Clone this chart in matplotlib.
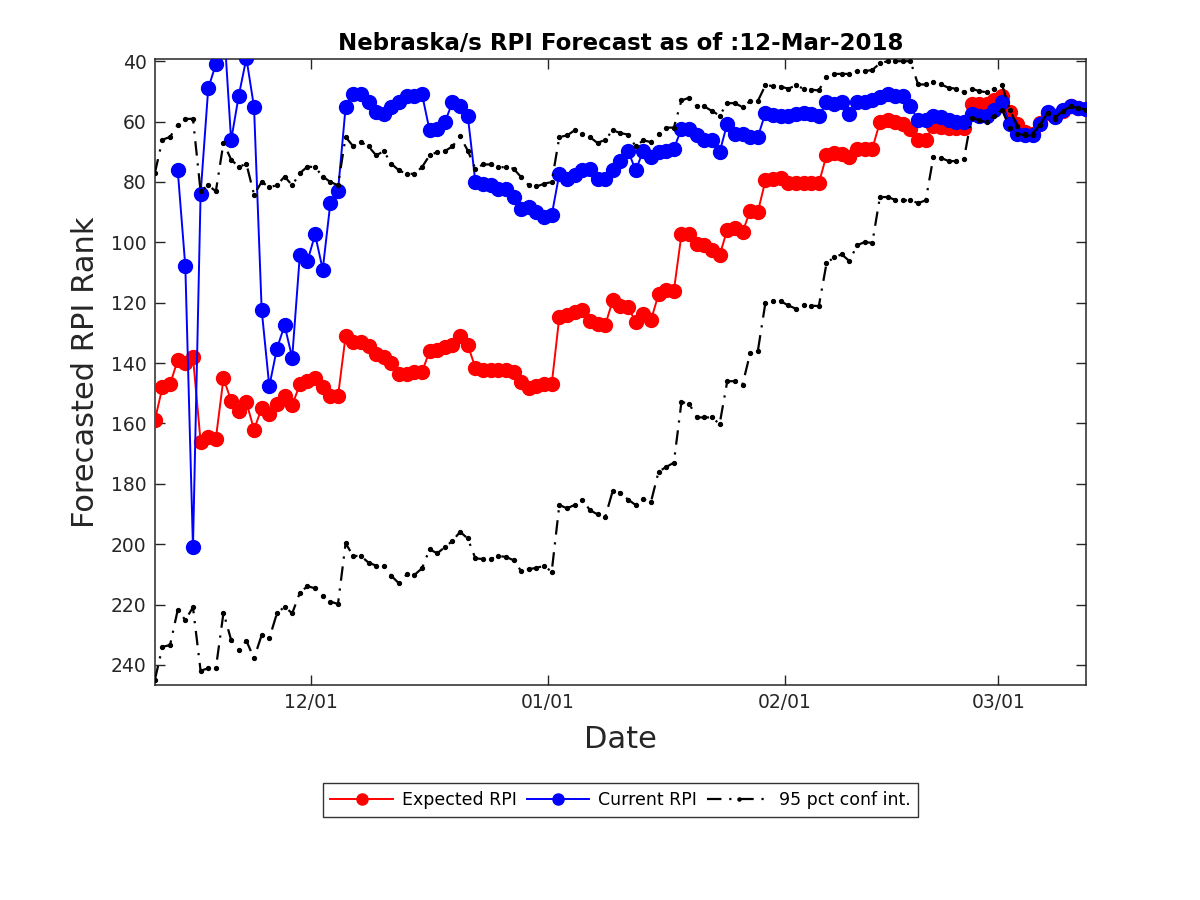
import numpy as np
import pandas as pd
import matplotlib
matplotlib.use("Agg")
import matplotlib.pyplot as plt

# ---------------- data ----------------
dates = pd.date_range("2017-11-10 12:00", "2018-03-12 12:00", freq="D")

expected_rpi = [
    159, 148, 147, 139, 140, 138, 166, 164.5, 165, 145,
    152.5, 156, 153, 162, 155, 157, 153.5, 151, 154, 147,
    146, 145, 148, 151, 151, 131, 133, 133, 134.5, 137,
    138, 140, 143.5, 143.5, 143, 143, 136, 135.5, 134.7, 134,
    131, 134, 141.5, 142.4, 142.4, 142.4, 142.4, 143, 146.3, 148.4,
    147.5, 147, 147, 124.7, 124.1, 123, 122.5, 126, 126.9, 127.5,
    119.2, 121.2, 121.4, 126.4, 123.8, 125.8, 117.2, 115.9, 116.1, 97.4,
    97.4, 100.7, 101, 102.7, 104.3, 95.8, 95.1, 96.6, 89.6, 90,
    79.5, 79, 78.6, 80.4, 80.4, 80.4, 80.4, 80.4, 71.2, 70.4,
    70.6, 71.8, 69, 69, 69, 60.2, 59.6, 60.2, 60.7, 62.4,
    66.2, 66, 61.3, 61.8, 62, 62, 62, 54.1, 54.1, 54.1,
    53, 51.4, 56.9, 60.7, 63.5, 64, 60.5, 57, 58, 56.5,
    55, 55.5, 55.8,
]

current_rpi = [
    np.nan, np.nan, np.nan, 76, 108, 201, 84, 49, 41, 26,
    66.2, 51.4, 39, 55.2, 122.3, 147.7, 135.2, 127.5, 138.2, 104.3,
    106.2, 97.4, 109, 87, 83, 55.2, 50.8, 50.8, 53.6, 56.9,
    57.4, 55.2, 53.6, 51.4, 51.4, 50.8, 62.9, 62.4, 60.2, 53.6,
    54.7, 58, 80, 80.6, 81.1, 82.2, 82.2, 85, 88.8, 88.3,
    90, 91.6, 91, 77.3, 78.9, 77.8, 76.2, 75.6, 78.9, 78.9,
    76.2, 72.9, 69.6, 76.2, 69.6, 71.8, 70.1, 69.6, 69, 62.4,
    62.4, 64.6, 66.2, 66.2, 70.1, 60.7, 64, 64, 65.1, 65.1,
    57.2, 57.8, 58.3, 58.3, 57.6, 57.2, 57.6, 58.3, 53.6, 54.1,
    53.6, 57.4, 53.6, 53.6, 53, 51.9, 50.8, 51.4, 51.4, 55,
    59.6, 59.6, 58, 58.5, 59.6, 60.2, 60.2, 57.4, 58.3, 58.3,
    56.3, 53.6, 60.7, 64, 64.6, 64.6, 60.7, 56.9, 58.5, 56.3,
    54.7, 55.5, 55.8,
]

ci_upper = [
    77.1, 66, 65.1, 61, 59.1, 59.1, 83.1, 81.1, 83.1, 67,
    72.6, 75, 74, 84.2, 80, 81.7, 81.1, 78.2, 81.1, 77.1,
    74.9, 75.1, 78.2, 80, 81.1, 65.1, 68.2, 66.8, 68.2, 71.2,
    69.8, 74, 76.2, 77.3, 77.3, 75.1, 71.2, 70.1, 69.8, 68.2,
    64.9, 69.6, 75.6, 74.2, 74.2, 75.1, 75.1, 75.6, 78.4, 81.1,
    81.5, 80.6, 80, 65.1, 64.6, 62.9, 64.2, 65.1, 67.1, 66,
    62.9, 63.8, 64.3, 68.2, 66.2, 66.8, 64, 62, 62, 53,
    52.1, 55, 55, 56.5, 58, 53.9, 53.9, 55.2, 53.2, 53.2,
    48, 48.2, 48.4, 49.1, 48, 49.1, 49.4, 49.7, 45.1, 44.2,
    44.2, 44.2, 43.3, 43.3, 42.9, 40.7, 40, 40, 40, 40,
    47.7, 47.7, 46.9, 47.7, 48.8, 49.1, 50.3, 49.1, 49.9, 50.3,
    49.1, 47.8, 56, 61.5, 64, 64, 61, 57, 58.5, 56.5,
    55, 55.5, 56,
]

ci_lower = [
    245, 234, 233.4, 221.8, 225.1, 220.9, 241.9, 241.1, 241.1, 222.7,
    231.7, 235, 232, 237.8, 230.1, 231.2, 222.9, 220.7, 222.9, 216.1,
    213.9, 214.6, 217.2, 219, 219.8, 199.7, 203.9, 203.9, 206.1, 207.1,
    207.1, 210.5, 213, 210, 210.2, 208, 201.7, 203, 201, 198.9,
    195.9, 198.1, 204.7, 204.9, 204.9, 203.9, 204.2, 205.3, 208.9, 208.3,
    207.8, 207.2, 209.1, 187, 188.1, 187, 185.2, 188.7, 190.1, 191.1,
    182.3, 183, 185.2, 187, 185.1, 186, 176, 174.4, 173, 152.9,
    153.4, 158, 158, 158, 160.2, 146, 146, 147.1, 136.8, 136.1,
    120, 119.5, 119.5, 120.9, 122, 120.9, 121, 121.1, 107, 104.9,
    104, 106.2, 101, 99.9, 100.2, 85, 85, 85.9, 86.1, 86.1,
    87, 86.1, 71.8, 72, 73.1, 73.1, 72.5, 58.7, 59.6, 60.2,
    58, 56.1, 62, 64, 64.6, 64.6, 61, 57, 59, 56.5,
    55, 55.5, 56,
]

y_ticks = [40, 60, 80, 100, 120, 140, 160, 180, 200, 220, 240]
x_tick_dates = ["2017-12-01", "2018-01-01", "2018-02-01", "2018-03-01"]
x_tick_labels = ["12/01", "01/01", "02/01", "03/01"]

title = "Nebraska/s RPI Forecast as of :12-Mar-2018"

# ---------------- plot ----------------
plt.rcParams["font.family"] = ["DejaVu Sans"]
fig = plt.figure(figsize=(12, 9), dpi=100)
ax = fig.add_axes([0.129, 0.239, 0.776, 0.695])

axis_col = "#262626"
ci_style = (0, (6.5, 3.5, 1, 3.5))

l1, = ax.plot(dates, expected_rpi, color="red", lw=1.4, marker="o", ms=10,
              markeredgecolor="red", label="Expected RPI", zorder=3)
l2, = ax.plot(dates, current_rpi, color="blue", lw=1.4, marker="o", ms=10,
              markeredgecolor="blue", label="Current RPI", zorder=4)
l3, = ax.plot(dates, ci_upper, color="black", lw=1.6, linestyle=ci_style,
              marker="o", ms=2.8, label="95 pct conf int.", zorder=5)
ax.plot(dates, ci_lower, color="black", lw=1.6, linestyle=ci_style,
        marker="o", ms=2.8, zorder=5)

ax.set_xlim(dates[0], dates[-1])
ax.set_ylim(246.6, 39.4)
ax.set_yticks(y_ticks)
ax.set_xticks(pd.to_datetime(x_tick_dates))
ax.set_xticklabels(x_tick_labels)

ax.tick_params(direction="in", length=7, width=1, colors=axis_col,
               labelsize=13.5, top=True, right=True, pad=6)
for sp in ax.spines.values():
    sp.set_color(axis_col)
    sp.set_linewidth(1.1)

ax.set_title(title, fontsize=16.5, fontweight="bold", pad=7)
ax.set_xlabel("Date", fontsize=22, color=axis_col, labelpad=9)
ax.set_ylabel("Forecasted RPI Rank", fontsize=22, color=axis_col, labelpad=8)

leg = fig.legend(handles=[l1, l2, l3], loc="center", bbox_to_anchor=(0.517, 0.111),
                 ncol=3, fontsize=12.5, frameon=True, fancybox=False,
                 edgecolor="black", handlelength=3.6, columnspacing=0.6,
                 handletextpad=0.5, borderpad=0.45, markerscale=0.8)
leg.get_frame().set_linewidth(1.0)

fig.savefig("out.png", dpi=100)
